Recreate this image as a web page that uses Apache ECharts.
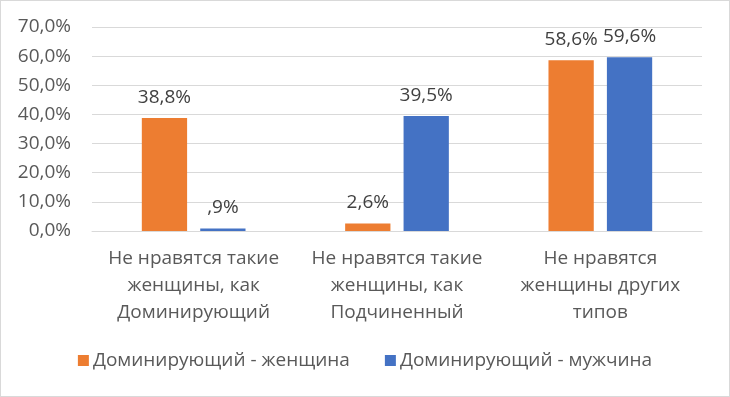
<!DOCTYPE html>
<html>
<head>
<meta charset="utf-8">
<script src="https://cdn.jsdelivr.net/npm/echarts@6/dist/echarts.min.js"></script>
<style>
  html, body { margin: 0; padding: 0; background: #fff; }
  #chart { width: 730px; height: 397px; box-sizing: border-box; border: 1px solid #d9d9d9; }
</style>
</head>
<body>
<div id="chart"></div>
<script>
var categories = [
  "Не нравятся такие\nженщины, как\nДоминирующий",
  "Не нравятся такие\nженщины, как\nПодчиненный",
  "Не нравятся\nженщины других\nтипов"
];
var seriesNames = ["Доминирующий - женщина", "Доминирующий - мужчина"];
var womanValues = [38.8, 2.6, 58.6];
var manValues = [0.9, 39.5, 59.6];
var yTicks = [0, 10, 20, 30, 40, 50, 60, 70];

var FONT = "Open Sans";
var TEXT = "#595959";
var SIZE = 19;

// Excel-style "#,#%" formatting: comma decimal, no leading zero below 1
function pct(v) {
  var s = v.toFixed(1).replace(".", ",");
  if (v < 1) s = s.replace(/^0/, "");
  return s + "%";
}

var myChart = echarts.init(document.getElementById("chart"), null, { renderer: "canvas" });

var barLabel = {
  show: true,
  position: "top",
  distance: 11,
  fontFamily: FONT,
  fontSize: SIZE,
  color: "#404040",
  formatter: function (p) { return pct(p.value); }
};

var option = {
  animation: false,
  textStyle: { fontFamily: FONT },
  grid: { left: 91, right: 27, top: 26, bottom: 165, containLabel: false },
  legend: {
    bottom: 21,
    left: "center",
    itemWidth: 11,
    itemHeight: 11,
    itemGap: 35,
    icon: "rect",
    textStyle: { fontFamily: FONT, fontSize: SIZE, color: TEXT, padding: [0, 0, 0, -1] },
    data: seriesNames
  },
  xAxis: {
    type: "category",
    data: categories,
    axisTick: { show: false },
    axisLine: { lineStyle: { color: "#d9d9d9" } },
    axisLabel: {
      interval: 0,
      margin: 14,
      fontFamily: FONT,
      fontSize: SIZE,
      lineHeight: 27,
      color: TEXT
    }
  },
  yAxis: {
    type: "value",
    min: yTicks[0],
    max: yTicks[yTicks.length - 1],
    interval: 10,
    axisLine: { show: false },
    axisTick: { show: false },
    splitLine: { lineStyle: { color: "#d9d9d9" } },
    axisLabel: {
      margin: 21,
      fontFamily: FONT,
      fontSize: SIZE,
      color: TEXT,
      formatter: function (v) { return v.toFixed(1).replace(".", ",") + "%"; }
    }
  },
  series: [
    {
      name: seriesNames[0],
      type: "bar",
      data: womanValues,
      barGap: "29%",
      barCategoryGap: "49%",
      itemStyle: { color: "#ED7D31" },
      label: barLabel
    },
    {
      name: seriesNames[1],
      type: "bar",
      data: manValues,
      itemStyle: { color: "#4472C4" },
      label: barLabel
    }
  ]
};

myChart.setOption(option);
</script>
</body>
</html>
